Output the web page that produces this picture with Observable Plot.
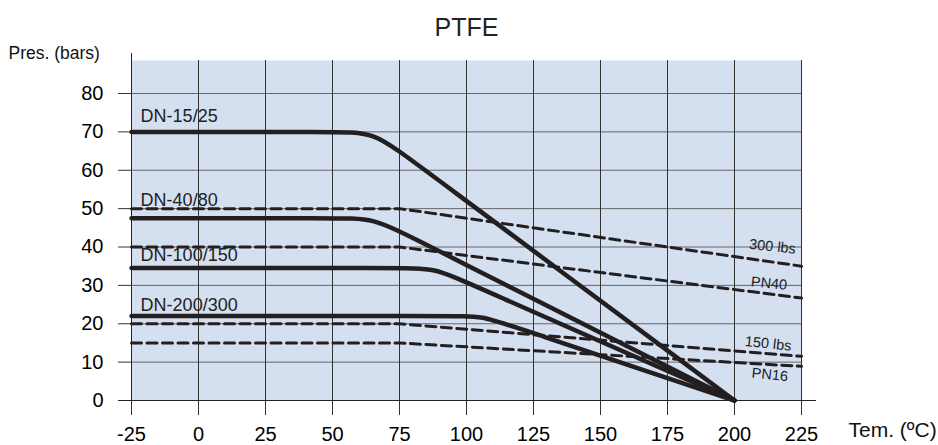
<!DOCTYPE html>
<html>
<head>
<meta charset="utf-8">
<script src="https://cdn.jsdelivr.net/npm/d3@7"></script>
<script src="https://cdn.jsdelivr.net/npm/@observablehq/plot@0.6"></script>
<style>
  html, body { margin: 0; padding: 0; background: #fff; }
  #chart svg { display: block; }
</style>
</head>
<body>
<div id="chart"></div>
<script>
// ---- data ----
const xTicks = [-25, 0, 25, 50, 75, 100, 125, 150, 175, 200, 225];
const yTicks = [0, 10, 20, 30, 40, 50, 60, 70, 80];

// solid curves (valve bodies): start, knee start, corner, knee end, end
const dn15Temp  = [-25, 51.4, 65.4, 79.4, 200];
const dn15Pres  = [70, 70, 70, 62.7, 0];
const dn40Temp  = [-25, 51.4, 65.4, 79.4, 200];
const dn40Pres  = [47.5, 47.5, 47.5, 42.6, 0];
const dn100Temp = [-25, 76, 88, 100, 200];
const dn100Pres = [34.5, 34.5, 34.5, 30.8, 0];
const dn200Temp = [-25, 95, 106, 117, 200];
const dn200Pres = [22, 22, 22, 19.4, 0];

// dashed curves (flange ratings)
const dashTemp    = [-25, 75, 225];
const lbs300Pres  = [50, 50, 35];
const pn40Pres    = [40, 40, 26.7];
const lbs150Pres  = [20, 20, 11.5];
const pn16Pres    = [15, 15, 8.9];

// labels
const dnLabels  = ["DN-15/25", "DN-40/80", "DN-100/150", "DN-200/300"];
const dnLabelY  = [74, 52.3, 37.9, 24.9];
const dnLabelX  = -21.6;
const rateLabels = ["300 lbs", "PN40", "150 lbs", "PN16"];
const rateLabelX = [214.2, 212.9, 212.6, 213.2];
const rateLabelY = [40.1, 30.5, 14.8, 6.7];

// ---- build tables ----
const toRows = (name, ts, ps) => ts.map((t, i) => ({name, t, p: ps[i]}));
const solid = [
  ...toRows(dnLabels[0], dn15Temp, dn15Pres),
  ...toRows(dnLabels[1], dn40Temp, dn40Pres),
  ...toRows(dnLabels[2], dn100Temp, dn100Pres),
  ...toRows(dnLabels[3], dn200Temp, dn200Pres)
];
const dashed = [
  ...toRows(rateLabels[0], dashTemp, lbs300Pres),
  ...toRows(rateLabels[1], dashTemp, pn40Pres),
  ...toRows(rateLabels[2], dashTemp, lbs150Pres),
  ...toRows(rateLabels[3], dashTemp, pn16Pres)
];
const dnLab = dnLabels.map((s, i) => ({s, x: dnLabelX, y: dnLabelY[i]}));
const rateLab = rateLabels.map((s, i) => ({s, x: rateLabelX[i], y: rateLabelY[i]}));

const ink = "#231f20";
const font = "'Liberation Sans', Arial, Helvetica, sans-serif";

const chart = Plot.plot({
  width: 938,
  height: 445,
  marginLeft: 131,
  marginRight: 137,
  marginTop: 60,
  marginBottom: 45,
  style: {fontFamily: font, background: "#fff", color: "#000"},
  x: {domain: [-25, 225], label: null},
  y: {domain: [0, 88.6], label: null},
  marks: [
    Plot.frame({fill: "#d4dff0", stroke: "none"}),
    Plot.gridY(yTicks.slice(1), {stroke: "#666", strokeOpacity: 1, strokeWidth: 1}),
    Plot.gridX(xTicks.slice(1), {stroke: "#333", strokeOpacity: 1, strokeWidth: 1}),
    Plot.axisY(yTicks, {tickSize: 13, tickPadding: 15, fontSize: 20, label: null, stroke: "#333", tickFormat: d => String(d)}),
    Plot.axisX(xTicks, {tickSize: 15, tickPadding: 11, fontSize: 20, label: null, stroke: "#333", tickFormat: d => String(d)}),
    Plot.ruleY([0], {x1: -29.5, x2: 230.6, stroke: "#222", strokeWidth: 1}),
    Plot.ruleX([-25], {y1: 0, y2: 90.4, stroke: "#222", strokeWidth: 1}),
    Plot.line(dashed, {x: "t", y: "p", z: "name", stroke: ink, strokeWidth: 3, strokeDasharray: "10,5.5"}),
    Plot.line(solid, {x: "t", y: "p", z: "name", stroke: ink, strokeWidth: 4.5, curve: "basis"}),
    Plot.text(dnLab, {x: "x", y: "y", text: "s", textAnchor: "start", fontSize: 18, fill: "#222"}),
    Plot.text(rateLab, {x: "x", y: "y", text: "s", textAnchor: "middle", fontSize: 14.5, rotate: 6, fill: "#222"}),
    Plot.text(["PTFE"], {frameAnchor: "top", dy: -42, fontSize: 25, fill: "#222"}),
    Plot.text(["Pres. (bars)"], {frameAnchor: "top-left", textAnchor: "start", dx: -123, dy: -14, fontSize: 17.5, fill: "#111"}),
    Plot.text(["Tem. (ºC)"], {frameAnchor: "bottom-right", textAnchor: "start", dx: 47, dy: 36, fontSize: 21, fill: "#111"})
  ]
});
document.getElementById("chart").appendChild(chart);
</script>
</body>
</html>
